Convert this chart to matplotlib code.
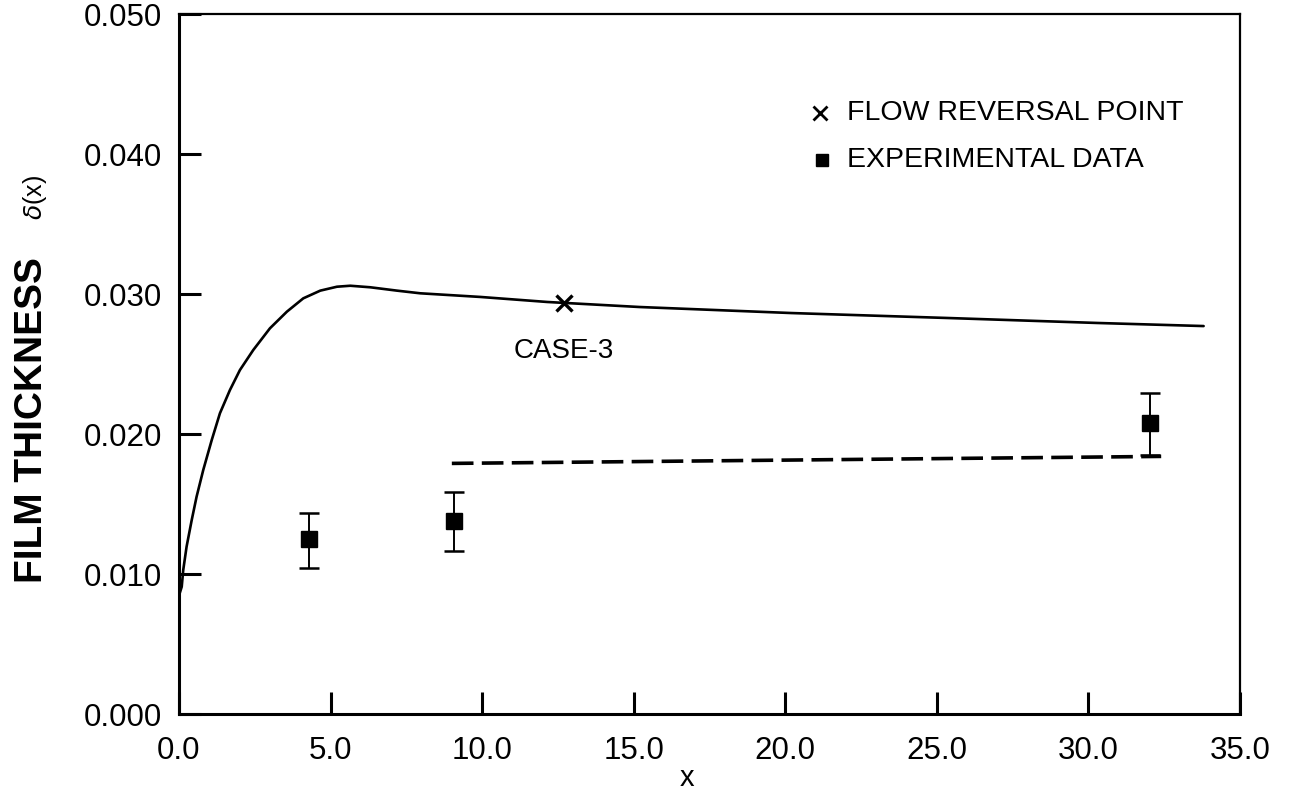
import matplotlib
matplotlib.use("Agg")
import matplotlib.pyplot as plt
import numpy as np

plt.rcParams["font.family"] = ["Liberation Sans", "DejaVu Sans"]

# solid curve: computed film thickness, case 3
curve_x = [0.02, 0.09, 0.14, 0.25, 0.42, 0.58, 0.80, 1.08, 1.35, 1.68, 2.01,
           2.45, 3.00, 3.56, 4.10, 4.66, 5.21, 5.65, 6.31, 7.19, 7.96, 9.94,
           12.15, 12.74, 15.2, 20.2, 25.3, 30.3, 33.8]
curve_y = [0.0086, 0.00909, 0.01029, 0.01195, 0.01386, 0.01552, 0.01743,
           0.01957, 0.02148, 0.02314, 0.02457, 0.02600, 0.02755, 0.02874,
           0.02969, 0.03024, 0.03052, 0.03059, 0.03048, 0.03024, 0.03005,
           0.02979, 0.02943, 0.02936, 0.02907, 0.02864, 0.02829, 0.02793,
           0.02771]

# dashed line
dash_x = [9.0, 32.4]
dash_y = [0.0179, 0.0184]

# experimental data with asymmetric error bars
exp_x = [4.29, 9.08, 32.02]
exp_y = [0.0125, 0.01379, 0.02079]
exp_lo = [0.01043, 0.01164, 0.01850]
exp_hi = [0.01436, 0.01586, 0.02293]

# flow reversal point
rev_x = [12.70]
rev_y = [0.02936]

xticks = [0.0, 5.0, 10.0, 15.0, 20.0, 25.0, 30.0, 35.0]
yticks = [0.000, 0.010, 0.020, 0.030, 0.040, 0.050]

fig = plt.figure(figsize=(12.93, 7.92), dpi=100)
ax = fig.add_axes([179 / 1293, 1 - 714 / 792, (1240 - 179) / 1293, 700 / 792])

ax.plot(curve_x, curve_y, color="black", lw=1.9, solid_capstyle="round",
        solid_joinstyle="round")
ax.plot(dash_x, dash_y, color="black", lw=2.6, linestyle=(0, (6.0, 2.3)))

yerr = [np.array(exp_y) - np.array(exp_lo), np.array(exp_hi) - np.array(exp_y)]
ax.errorbar(exp_x, exp_y, yerr=yerr, fmt="s", color="black", ms=11,
            capsize=7, elinewidth=1.4, capthick=1.8)
ax.plot(rev_x, rev_y, "x", color="black", ms=11, mew=2.4)
ax.text(12.68, 0.0259, "CASE-3", fontsize=20, ha="center", va="center")

# legend keys drawn by hand
ax.plot([21.13], [0.04293], "x", color="black", ms=9.5, mew=2.0)
ax.text(22.05, 0.04293, "FLOW REVERSAL POINT", fontsize=20.5, va="center")
ax.plot([21.2], [0.03957], "s", color="black", ms=8.5)
ax.text(22.05, 0.03957, "EXPERIMENTAL DATA", fontsize=20.5, va="center")

ax.set_xlim(0, 35)
ax.set_ylim(0, 0.05)
ax.set_xticks(xticks)
ax.set_xticklabels([f"{t:.1f}" for t in xticks])
ax.set_yticks(yticks)
ax.set_yticklabels([f"{t:.3f}" for t in yticks])
ax.tick_params(direction="in", length=16, width=2.2, labelsize=22.5, pad=12)
ax.tick_params(axis="x", pad=16)

for side in ["left", "bottom"]:
    ax.spines[side].set_linewidth(2.2)
for side in ["top", "right"]:
    ax.spines[side].set_linewidth(1.6)

fig.text(687 / 1293, 1 - 786 / 792, "x", fontsize=21, ha="center",
         va="baseline")
fig.text(32 / 1293, 1 - 420 / 792, "FILM THICKNESS", rotation=90,
         fontsize=28, fontweight="bold", ha="center", va="center")
fig.text(35 / 1293, 1 - 198 / 792, r"$\delta$(x)", rotation=90,
         fontsize=18, ha="center", va="center")

fig.savefig("out.png", dpi=100)
